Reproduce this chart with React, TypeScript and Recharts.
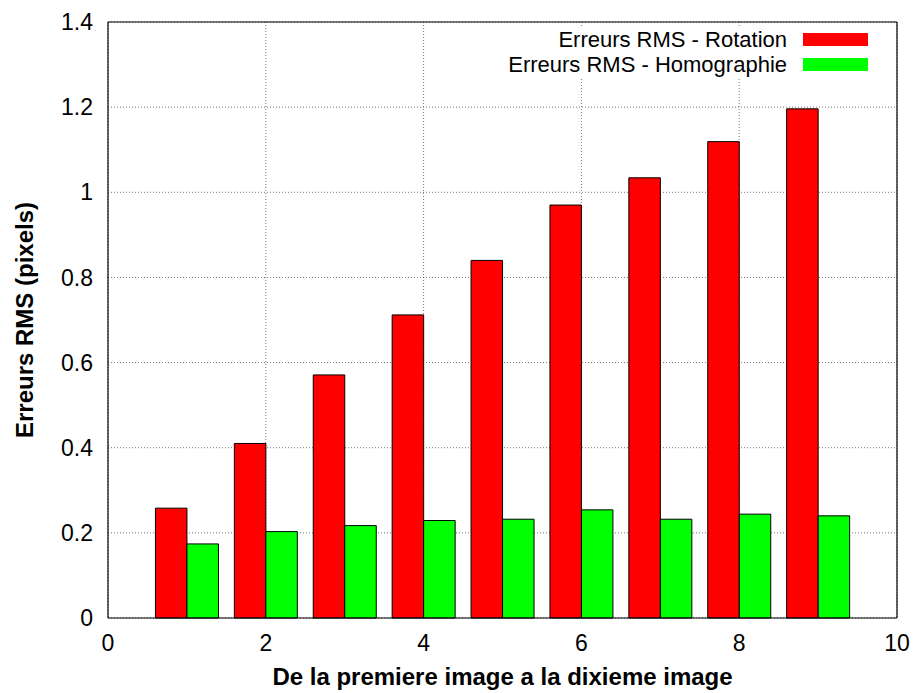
import React from 'react';
import { BarChart, Bar, XAxis, YAxis, CartesianGrid, Legend } from 'recharts';

const positions = [1, 2, 3, 4, 5, 6, 7, 8, 9];
const rotationErrors = [0.258, 0.41, 0.571, 0.712, 0.84, 0.97, 1.034, 1.119, 1.196];
const homographyErrors = [0.174, 0.203, 0.217, 0.229, 0.232, 0.254, 0.232, 0.244, 0.24];
const xTicks = [0, 2, 4, 6, 8, 10];
const yTicks = [0, 0.2, 0.4, 0.6, 0.8, 1, 1.2, 1.4];
const seriesNames = ['Erreurs RMS - Rotation', 'Erreurs RMS - Homographie'];
const seriesColors = ['#ff0000', '#00ff00'];
const xLabel = 'De la premiere image a la dixieme image';
const yLabel = 'Erreurs RMS (pixels)';

const data = positions.map((x, i) => ({ x, rot: rotationErrors[i], homo: homographyErrors[i] }));

const FONT = '"Liberation Sans", Arial, Helvetica, sans-serif';

const renderLegend = () => (
  <div style={{ background: '#fff', paddingRight: 12, fontFamily: FONT, fontSize: 22, color: '#000' }}>
    {seriesNames.map((n, i) => (
      <div key={n} style={{ display: 'flex', justifyContent: 'flex-end', alignItems: 'center', height: 25.5 }}>
        <span style={{ lineHeight: '25.5px', whiteSpace: 'nowrap' }}>{n}</span>
        <span style={{ display: 'inline-block', width: 65, height: 13, background: seriesColors[i], marginLeft: 16 }} />
      </div>
    ))}
  </div>
);

const renderXLabel = (p: any) => {
  const vb = p.viewBox || {};
  const cx = vb.x + vb.width / 2;
  const cy = vb.y + vb.height - 8;
  return (
    <text x={cx} y={cy} textAnchor="middle" fontFamily={FONT} fontSize={24} fontWeight="bold" fill="#000">
      {xLabel}
    </text>
  );
};

const renderYLabel = (p: any) => {
  const vb = p.viewBox || {};
  const cx = vb.x + 24;
  const cy = vb.y + vb.height / 2;
  return (
    <text
      x={cx}
      y={cy}
      transform={`rotate(-90 ${cx} ${cy})`}
      textAnchor="middle"
      dominantBaseline="central"
      fontFamily={FONT}
      fontSize={24}
      fontWeight="bold"
      fill="#000"
    >
      {yLabel}
    </text>
  );
};

const tickStyle = { fill: '#000', fontSize: 23, fontFamily: FONT };
const borderLine = { stroke: '#000', strokeWidth: 1.2 };

export default function App() {
  return (
    <div style={{ position: 'absolute', left: 0, top: 0, width: 913, height: 693, background: '#fff' }}>
      <BarChart
        width={913}
        height={693}
        data={data}
        margin={{ top: 22, right: 16, left: 0, bottom: 0 }}
        barSize={31.5}
        barGap={0}
      >
        <CartesianGrid stroke="#777" strokeDasharray="1 2" />
        <Bar dataKey="rot" name={seriesNames[0]} fill={seriesColors[0]} stroke="#000" strokeWidth={1} isAnimationActive={false} />
        <Bar dataKey="homo" name={seriesNames[1]} fill={seriesColors[1]} stroke="#000" strokeWidth={1} isAnimationActive={false} />
        <XAxis
          xAxisId={0}
          dataKey="x"
          type="number"
          domain={[0, 10]}
          ticks={xTicks}
          interval={0}
          height={75}
          tickLine={false}
          axisLine={false}
          tickSize={6}
          tickMargin={11}
          tick={tickStyle}
          label={{ content: renderXLabel }}
        />
        <XAxis
          xAxisId="bm"
          dataKey="x"
          type="number"
          orientation="bottom"
          mirror
          domain={[0, 10]}
          ticks={xTicks}
          interval={0}
          tickSize={8}
          tick={false}
          axisLine={borderLine}
          tickLine={borderLine}
        />
        <XAxis
          xAxisId="tm"
          dataKey="x"
          type="number"
          orientation="top"
          mirror
          domain={[0, 10]}
          ticks={xTicks}
          interval={0}
          tickSize={8}
          tick={false}
          axisLine={borderLine}
          tickLine={borderLine}
        />
        <YAxis
          yAxisId={0}
          width={108}
          domain={[0, 1.4]}
          ticks={yTicks}
          interval={0}
          tickLine={false}
          axisLine={false}
          tickSize={6}
          tickMargin={9}
          tick={tickStyle}
          label={{ content: renderYLabel }}
        />
        <YAxis
          yAxisId="lm"
          orientation="left"
          mirror
          domain={[0, 1.4]}
          ticks={yTicks}
          interval={0}
          tickSize={8}
          tick={false}
          axisLine={borderLine}
          tickLine={borderLine}
        />
        <YAxis
          yAxisId="rm"
          orientation="right"
          mirror
          domain={[0, 1.4]}
          ticks={yTicks}
          interval={0}
          tickSize={8}
          tick={false}
          axisLine={borderLine}
          tickLine={borderLine}
        />
        <Legend
          layout="horizontal"
          verticalAlign="middle"
          align="center"
          content={renderLegend}
          wrapperStyle={{ top: 26.5, left: 470, width: 410, height: 'auto' }}
        />
      </BarChart>
    </div>
  );
}
